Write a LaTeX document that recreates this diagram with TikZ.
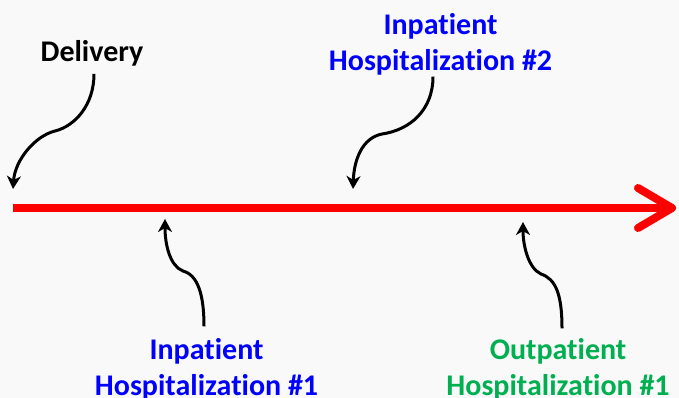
\documentclass[tikz,border=0pt]{standalone}
\usepackage{fontspec}
\setmainfont{Carlito}[Ligatures=NoCommon]
\usetikzlibrary{arrows.meta}
\definecolor{TLred}{RGB}{255,0,0}
\definecolor{TLblue}{RGB}{0,0,255}
\definecolor{TLgreen}{RGB}{0,176,80}
\definecolor{TLback}{RGB}{249,249,249}

\begin{document}
\begin{tikzpicture}[x=1pt, y=-1pt,
	timeline/.style={-{Straight Barb[length=34pt, width=40pt, round]}, line width=8pt, TLred},
	pointer/.style={-{Stealth[length=13pt, width=14pt, inset=4pt]}, line width=3pt, black},
	evtlabel/.style={align=center, inner sep=0pt, font=\bfseries\fontsize{30}{36}\selectfont},
	inpatient/.style={evtlabel, TLblue},
	outpatient/.style={evtlabel, TLgreen}
	]
	\fill [TLback] (0,0) rectangle (679,398);
	\useasboundingbox (0,0) rectangle (679,398);

	\coordinate (tstart) at (13,208);
	\coordinate (tend) at (676,208);
	\draw [timeline] (tstart) -- (tend);

	\node (del) at (92,62) [evtlabel, anchor=base] {Delivery};
	\node (in2) at (440.5,44) [inpatient] {Inpatient\\Hospitalization \#2};
	\node (in1) at (206.5,369.5) [inpatient] {Inpatient\\Hospitalization \#1};
	\node (out1) at (558,369.5) [outpatient] {Outpatient\\Hospitalization \#1};

	\coordinate (tdel) at (13,189);
	\coordinate (tin2) at (353,189);
	\coordinate (tin1) at (165,219);
	\coordinate (tout1) at (523,222);

	\draw [pointer] ([xshift=2pt, yshift=-7pt]del.south) .. controls (94,105) and (75,126) .. (55,131)
		.. controls (35,136) and (15,160) .. (tdel);
	\draw [pointer] ([xshift=-7.5pt, yshift=-1.5pt]in2.south) .. controls (433,110) and (410,130) .. (382,134)
		.. controls (362,138) and (354,160) .. (tin2);
	\draw [pointer] ([xshift=-2.5pt, yshift=12pt]in1.north) .. controls (204,295) and (198,275) .. (183,271)
		.. controls (170,266) and (165,245) .. (tin1);
	\draw [pointer] ([xshift=4pt, yshift=10pt]out1.north) .. controls (562,295) and (556,279) .. (541,274)
		.. controls (528,268) and (523,245) .. (tout1);
\end{tikzpicture}
\end{document}
